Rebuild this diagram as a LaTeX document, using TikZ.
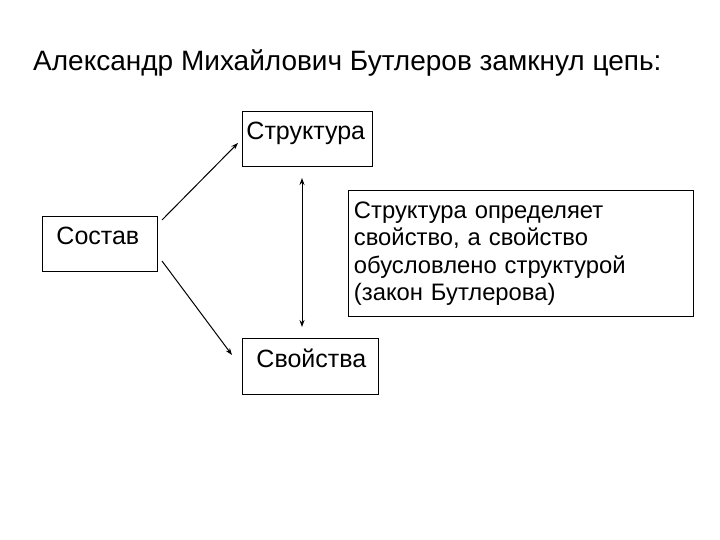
\documentclass[tikz,border=0pt]{standalone}
\usepackage{fontspec}
\setmainfont{Liberation Sans}
\usetikzlibrary{arrows.meta,calc}
\begin{document}
\begin{tikzpicture}[x=1pt,y=-1pt,
  box/.style={draw, line width=0.9pt, anchor=north west, inner ysep=0pt, inner xsep=7pt, align=left, font=\fontsize{25}{29}\selectfont},
  conn/.style={line width=1pt, -{Stealth[length=7pt,width=5pt]}}]
\useasboundingbox (0,0) rectangle (720,540);
\node[anchor=base west, inner sep=0pt, font=\fontsize{28}{30}\selectfont] (title) at (33,71) {Александр Михайлович Бутлеров замкнул цепь:};
\node[box, minimum width=130pt, text width=122pt, text height=28pt, text depth=27pt, inner xsep=4pt] (str) at (242,111) {Структура};
\node[box, minimum width=115pt, text width=87pt, text height=28pt, text depth=27pt, inner xsep=14pt] (sos) at (42,216) {Состав};
\node[box, minimum width=136pt, text width=108pt, text height=29pt, text depth=27pt, inner xsep=14pt] (svo) at (242,338) {Свойства};
\node[box, minimum width=345pt, text width=334pt, text height=28pt, text depth=98pt, inner xsep=5pt, font=\fontsize{23.8}{27.3}\selectfont] (law) at (348,190) {Структура определяет\\свойство, а свойство\\обусловлено структурой\\(закон Бутлерова)};
\coordinate (a1) at (162,220);
\coordinate (a2) at (162,261);
\coordinate (b1) at (238,143);
\coordinate (b2) at (232,355);
\draw[conn] (a1) -- (b1);
\draw[conn] (a2) -- (b2);
\coordinate (v1) at (302,178);
\coordinate (v2) at (302,327);
\draw[line width=1pt, {Stealth[length=7pt,width=5pt]}-{Stealth[length=7pt,width=5pt]}] (v1) -- (v2);
\end{tikzpicture}
\end{document}
